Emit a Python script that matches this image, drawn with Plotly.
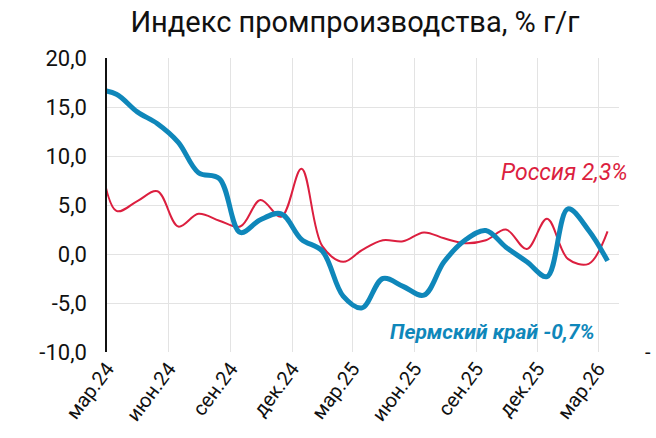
import plotly.graph_objects as go
import pandas as pd

# monthly values, points sit mid-month (first one, feb.24, is cut off by the axis)
months = pd.date_range("2024-02-01", periods=26, freq="MS") + pd.Timedelta(days=14)
russia = [12.5, 4.4, 5.4, 6.4, 2.8, 4.1, 3.4, 2.8, 5.5, 3.8, 8.7, 0.8, -0.8,
          0.4, 1.4, 1.3, 2.2, 1.6, 1.1, 1.4, 2.5, 0.5, 3.6, -0.5, -1.0, 2.3]
perm = [16.8, 16.3, 14.5, 13.3, 11.4, 8.3, 7.7, 2.2, 3.5, 4.1, 1.5, 0.3, -4.3,
        -5.5, -2.5, -3.3, -4.2, -0.8, 1.4, 2.4, 0.7, -0.8, -2.3, 4.6, 2.4, -0.7]

tick_dates = pd.date_range("2024-03-01", "2026-03-01", freq="3MS")
tick_labels = ["мар.24", "июн.24", "сен.24", "дек.24", "мар.25",
               "июн.25", "сен.25", "дек.25", "мар.26"]
y_ticks = [-10, -5, 0, 5, 10, 15, 20]
y_labels = ["-10,0", "-5,0", "0,0", "5,0", "10,0", "15,0", "20,0"]

RED = "#dc1f3f"
BLUE = "#0f87ba"
x_range = ["2024-03-01", "2026-04-01"]

fig = go.Figure([
    go.Scatter(x=months, y=russia, mode="lines", name="Россия",
               line={"color": RED, "width": 2, "shape": "spline", "smoothing": 1}),
    go.Scatter(x=months, y=perm, mode="lines", name="Пермский край",
               line={"color": BLUE, "width": 5, "shape": "spline", "smoothing": 1}),
]).update_layout(
    width=656, height=438,
    margin={"l": 107, "r": 37, "t": 58, "b": 84},
    paper_bgcolor="white", plot_bgcolor="white",
    showlegend=False,
    font={"family": "Roboto", "color": "#111111"},
    title={"text": "Индекс промпроизводства, % г/г", "x": 0.541, "xanchor": "center",
           "y": 0.95, "yanchor": "middle", "yref": "container",
           "font": {"size": 29, "color": "#111111"}},
    xaxis={
        "type": "date", "range": x_range,
        "tickvals": tick_dates, "ticktext": tick_labels,
        "tickangle": -53, "tickfont": {"size": 20},
        "showgrid": True, "gridcolor": "#e3e3e3", "gridwidth": 1,
        "showline": False, "ticks": "", "zeroline": False,
    },
    xaxis2={
        "type": "date", "range": x_range, "overlaying": "x",
        "anchor": "free", "position": 1 / 3, "side": "bottom",
        "tickvals": tick_dates, "showticklabels": False,
        "showline": True, "linecolor": "#111111", "linewidth": 1.5,
        "ticks": "outside", "ticklen": 5, "tickcolor": "#111111",
        "showgrid": False, "zeroline": False,
    },
    yaxis={
        "range": [-10, 20], "tickvals": y_ticks, "ticktext": y_labels,
        "tickfont": {"size": 22},
        "showgrid": True, "gridcolor": "#e3e3e3", "gridwidth": 1,
        "showline": True, "linecolor": "#111111", "linewidth": 1.5,
        "zeroline": False, "ticks": "", "ticklabelstandoff": 14,
    },
    annotations=[
        {"text": "<i>Россия 2,3%</i>", "xref": "paper", "yref": "y",
         "x": 1.021, "y": 8.3, "xanchor": "right", "yanchor": "middle",
         "showarrow": False, "font": {"size": 23, "color": RED}},
        {"text": "<b><i>Пермский край -0,7%</i></b>", "xref": "paper", "yref": "y",
         "x": 0.958, "y": -8.0, "xanchor": "right", "yanchor": "middle",
         "showarrow": False, "font": {"size": 21, "color": BLUE}},
        {"text": "-", "xref": "paper", "yref": "y", "x": 1.066, "y": -10,
         "xanchor": "right", "yanchor": "middle", "showarrow": False,
         "font": {"size": 20}},
    ],
)

# the page's default 8px body margin would shift the chart
fig.write_html("out.html", config={"displayModeBar": False},
               post_script="document.body.style.margin = '0';")
